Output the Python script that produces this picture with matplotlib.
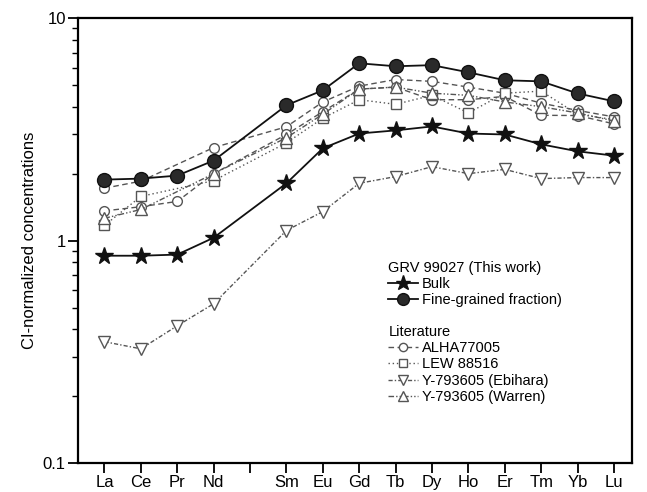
import matplotlib.pyplot as plt
import numpy as np
from matplotlib.ticker import LogLocator, FixedFormatter, FixedLocator, NullFormatter

plt.rcParams["font.family"] = "Liberation Sans"

# REE order, Pm left as a gap (tick without label)
elements = ["La", "Ce", "Pr", "Nd", "", "Sm", "Eu", "Gd", "Tb", "Dy", "Ho", "Er", "Tm", "Yb", "Lu"]

# CI-normalized values (nan = not plotted)
bulk = [0.855, 0.855, 0.865, 1.03, np.nan, 1.81, 2.60, 3.03, 3.13, 3.26, 3.03, 3.00, 2.71, 2.52, 2.41]
fine = [1.88, 1.90, 1.96, 2.29, np.nan, 4.06, 4.74, 6.27, 6.08, 6.15, 5.71, 5.26, 5.20, 4.59, 4.23]
alha_a = [1.72, 1.85, np.nan, 2.62, np.nan, 3.25, 4.20, 4.95, 5.30, 5.20, 4.90, 4.60, 4.15, 3.85, 3.60]
alha_b = [1.36, 1.42, 1.50, 2.00, np.nan, 3.00, 3.80, 4.80, 4.90, 4.30, 4.30, 4.45, 3.66, 3.65, 3.35]
lew = [1.17, 1.58, np.nan, 1.86, np.nan, 2.75, 3.55, 4.30, 4.10, 4.50, 3.75, 4.60, 4.70, 3.70, 3.50]
y_ebihara = [0.351, 0.326, 0.414, 0.52, np.nan, 1.11, 1.35, 1.81, 1.94, 2.15, 2.00, 2.09, 1.90, 1.92, 1.92]
y_warren = [1.26, 1.38, np.nan, 2.00, np.nan, 2.90, 3.70, 4.80, 4.90, 4.60, 4.50, 4.20, 4.00, 3.75, 3.45]


def plot_series(ax, vals, **kw):
    x = np.arange(len(vals))
    y = np.array(vals, dtype=float)
    m = ~np.isnan(y)  # skip missing elements, line joins neighbours
    return ax.plot(x[m], y[m], **kw)[0]


fig = plt.figure(figsize=(6.47, 4.92), dpi=100)
ax = fig.add_axes([0.121, 0.059, 0.856, 0.904])

grey = "#555555"
open_kw = dict(color=grey, lw=1.0, mfc="white", mec=grey, mew=1.0)

h_alha = plot_series(ax, alha_a, marker="o", ms=7, ls=(0, (4, 2.5)), **open_kw)
plot_series(ax, alha_b, marker="o", ms=7, ls=(0, (4, 2.5)), **open_kw)
h_lew = plot_series(ax, lew, marker="s", ms=7, ls=(0, (1, 2)), **open_kw)
h_warren = plot_series(ax, y_warren, marker="^", ms=8, ls=(0, (4, 1.5, 1, 1.5, 1, 1.5)), **open_kw)
h_ebi = plot_series(ax, y_ebihara, marker="v", ms=8.5, ls=(0, (3, 1.5, 1, 1.5)), **open_kw)

h_bulk = plot_series(ax, bulk, marker="*", ms=13, color="#111111", lw=1.3)
h_fine = plot_series(ax, fine, marker="o", ms=10, color="#111111", mfc="#2a2a2a", lw=1.3)

ax.set_yscale("log")
ax.set_ylim(0.1, 10)
ax.set_xlim(-0.72, 14.5)

ax.yaxis.set_major_locator(FixedLocator([0.1, 1, 10]))
ax.yaxis.set_major_formatter(FixedFormatter(["0.1", "1", "10"]))
ax.yaxis.set_minor_locator(LogLocator(base=10, subs=np.arange(2, 10)))
ax.yaxis.set_minor_formatter(NullFormatter())

ax.set_xticks(np.arange(len(elements)))
ax.set_xticklabels(elements)

ax.tick_params(axis="both", which="major", direction="out", length=7, width=1.3, labelsize=12, pad=2)
ax.tick_params(axis="y", which="minor", direction="out", length=4, width=1.0)
for s in ax.spines.values():
    s.set_linewidth(1.6)

ax.set_ylabel("CI-normalized concentrations", fontsize=12)

leg_kw = dict(loc="upper left", frameon=False, fontsize=10.5, title_fontsize=10.5,
              handlelength=2.0, handletextpad=0.3, labelspacing=0.15, borderpad=0,
              borderaxespad=0, alignment="left", markerscale=0.85)

leg1 = ax.legend([h_bulk, h_fine], ["Bulk", "Fine-grained fraction)"],
                 title="GRV 99027 (This work)", bbox_to_anchor=(0.56, 0.455), **leg_kw)
ax.add_artist(leg1)
ax.legend([h_alha, h_lew, h_ebi, h_warren],
          ["ALHA77005", "LEW 88516", "Y-793605 (Ebihara)", "Y-793605 (Warren)"],
          title="Literature", bbox_to_anchor=(0.56, 0.31), **leg_kw)

fig.savefig("out.png", dpi=100)
